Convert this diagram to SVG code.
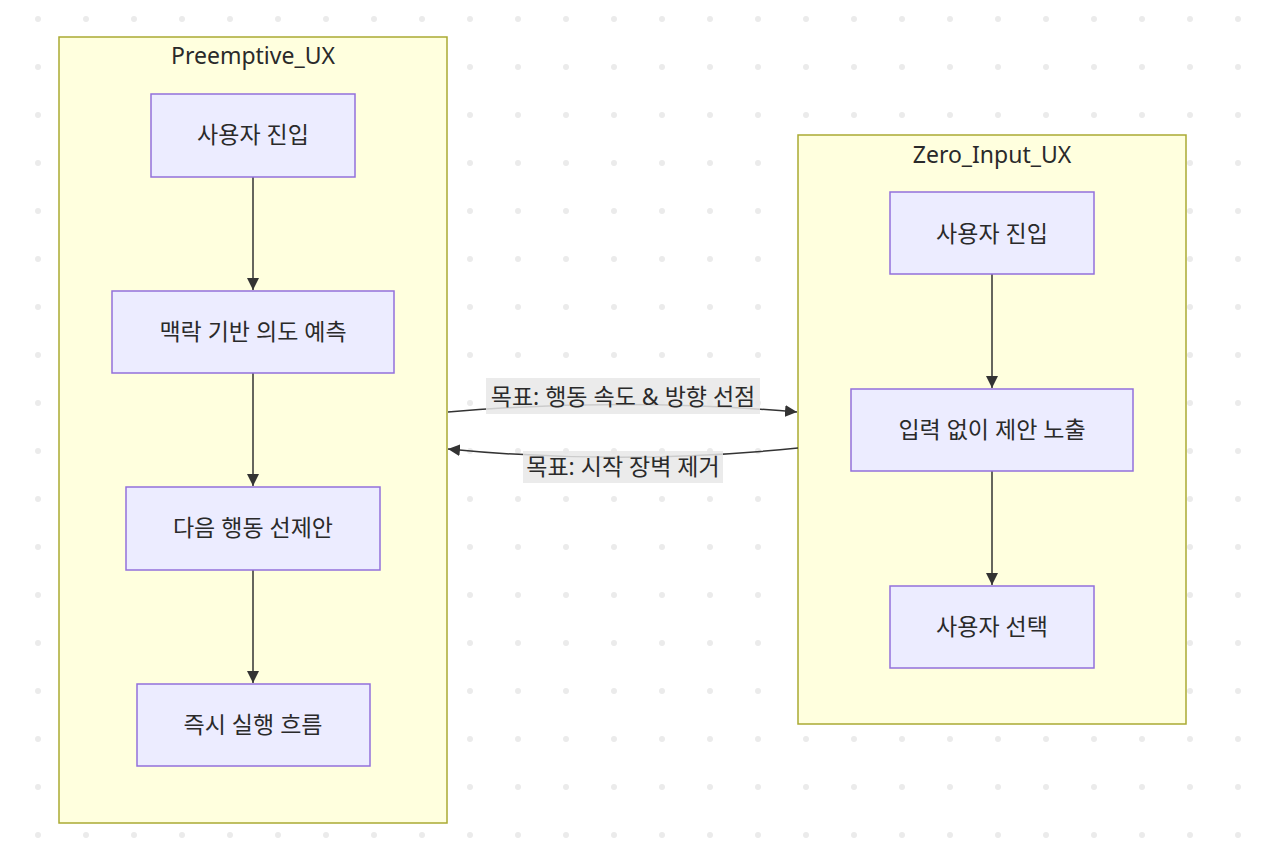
<svg xmlns="http://www.w3.org/2000/svg" width="1280" height="866" viewBox="0 0 1280 866">
<defs>
<pattern id="dots" x="14" y="-5" width="48" height="48" patternUnits="userSpaceOnUse">
<circle cx="24" cy="24" r="3" fill="#ebebeb"/>
</pattern>
<marker id="arr" viewBox="0 0 10 10" refX="10" refY="5" markerWidth="12" markerHeight="12" markerUnits="userSpaceOnUse" orient="auto">
<path d="M0,0 L10,5 L0,10 z" fill="#333"/>
</marker>
<style>
.cluster{fill:#ffffde;stroke:#aaaa33;stroke-width:1.5}
.node rect{fill:#ececff;stroke:#9370db;stroke-width:1.5}
text{font-family:"Noto Sans","Noto Sans CJK KR",sans-serif;font-size:23px;fill:#2a2a2a;text-anchor:middle;dominant-baseline:central}
.edge{fill:none;stroke:#333;stroke-width:1.5}
.lbl{fill:#e8e8e8;opacity:0.85}
</style>
</defs>
<rect width="1280" height="866" fill="#fff"/>
<rect width="1280" height="866" fill="url(#dots)"/>

<g id="Preemptive_UX">
<rect class="cluster" x="59" y="37" width="388" height="786"/>
<text x="253" y="55">Preemptive_UX</text>
</g>
<g id="Zero_Input_UX">
<rect class="cluster" x="798" y="135" width="388" height="589"/>
<text x="992" y="154">Zero_Input_UX</text>
</g>

<g id="connectors">
<path class="edge" d="M253,177 V290" marker-end="url(#arr)"/>
<path class="edge" d="M253,373 V486" marker-end="url(#arr)"/>
<path class="edge" d="M253,570 V683" marker-end="url(#arr)"/>
<path class="edge" d="M992,274 V388" marker-end="url(#arr)"/>
<path class="edge" d="M992,471 V585" marker-end="url(#arr)"/>
<path class="edge" d="M448,412 Q622,397 797,412" marker-end="url(#arr)"/>
<path class="edge" d="M798,448 Q622,466 448,449" marker-end="url(#arr)"/>
<rect class="lbl" x="486" y="378" width="274" height="36"/>
<text x="623" y="396">목표: 행동 속도 &amp; 방향 선점</text>
<rect class="lbl" x="523" y="451" width="200" height="32"/>
<text x="623" y="466">목표: 시작 장벽 제거</text>
</g>

<g id="A1" class="node">
<rect x="151" y="94" width="204" height="83"/>
<text x="253" y="134">사용자 진입</text>
</g>
<g id="A2" class="node">
<rect x="112" y="291" width="282" height="82"/>
<text x="253" y="331">맥락 기반 의도 예측</text>
</g>
<g id="A3" class="node">
<rect x="126" y="487" width="254" height="83"/>
<text x="253" y="527">다음 행동 선제안</text>
</g>
<g id="A4" class="node">
<rect x="137" y="684" width="233" height="82"/>
<text x="253" y="724">즉시 실행 흐름</text>
</g>
<g id="B1" class="node">
<rect x="890" y="192" width="204" height="82"/>
<text x="992" y="233">사용자 진입</text>
</g>
<g id="B2" class="node">
<rect x="851" y="389" width="282" height="82"/>
<text x="992" y="429">입력 없이 제안 노출</text>
</g>
<g id="B3" class="node">
<rect x="890" y="586" width="204" height="82"/>
<text x="992" y="626">사용자 선택</text>
</g>
</svg>
